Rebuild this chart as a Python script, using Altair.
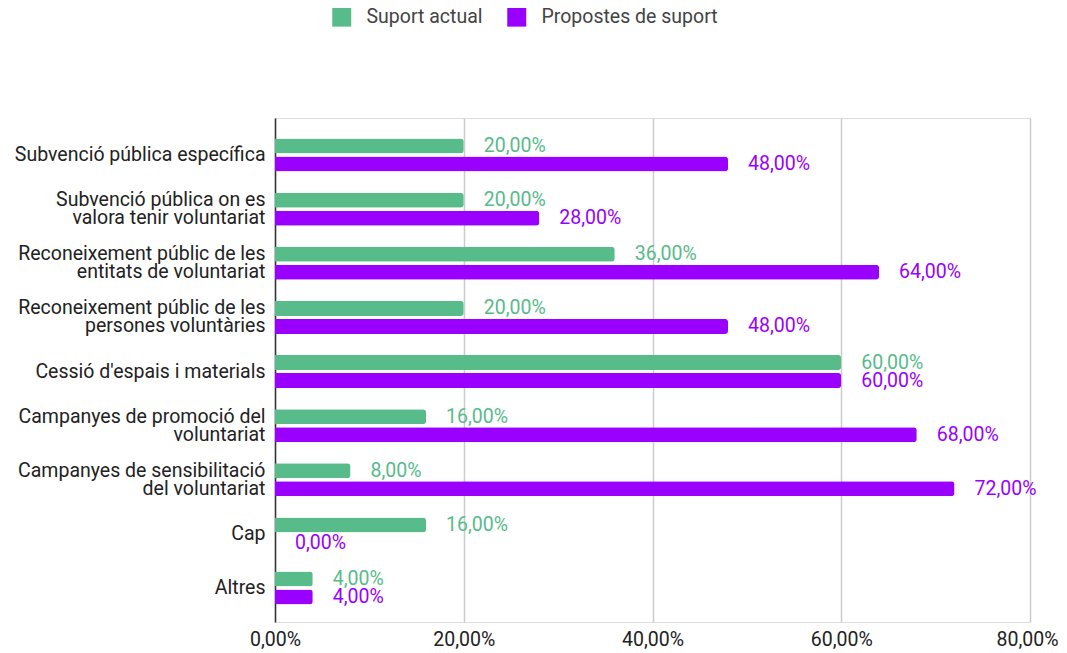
import altair as alt
import pandas as pd

categories = [
    "Subvenció pública específica",
    "Subvenció pública on es\nvalora tenir voluntariat",
    "Reconeixement públic de les\nentitats de voluntariat",
    "Reconeixement públic de les\npersones voluntàries",
    "Cessió d'espais i materials",
    "Campanyes de promoció del\nvoluntariat",
    "Campanyes de sensibilitació\ndel voluntariat",
    "Cap",
    "Altres",
]
series = ["Suport actual", "Propostes de suport"]
suport_actual = [20, 20, 36, 20, 60, 16, 8, 16, 4]
propostes = [48, 28, 64, 48, 60, 68, 72, 0, 4]
x_ticks = [0, 20, 40, 60, 80]
colors = ["#57bb8a", "#9900ff"]

rows = []
for c, a, p in zip(categories, suport_actual, propostes):
    rows.append({"cat": c, "serie": series[0], "value": a})
    rows.append({"cat": c, "serie": series[1], "value": p})
df = pd.DataFrame(rows)

FONT = "Roboto"
FS = 19.5
LH = 18

y_enc = alt.Y("cat:N", sort=categories, title=None,
              scale=alt.Scale(paddingInner=0, paddingOuter=0.156, align=0.59),
              axis=alt.Axis(labelExpr="split(datum.label, '\\n')", labelFontSize=FS,
                            labelColor="#222", labelFont=FONT, labelLineHeight=LH,
                            labelOffset={"condition": {"test": "indexof(datum.label, '\\n') >= 0",
                                                       "value": -LH / 2},
                                         "value": 0},
                            ticks=False, labelPadding=10, domain=True,
                            domainColor="#333", domainWidth=1.5, grid=False,
                            labelLimit=400))
yoff_enc = alt.YOffset("serie:N", sort=series,
                       scale=alt.Scale(paddingInner=0.1667, paddingOuter=0.587))
x_enc = alt.X("value:Q", title=None,
              scale=alt.Scale(domain=[0, 80], nice=False),
              axis=alt.Axis(values=x_ticks, labelExpr="replace(format(datum.value, '.2f'), '.', ',') + '%'",
                            labelFontSize=FS, labelColor="#222", labelFont=FONT,
                            labelFlush=False,
                            labelOffset={"condition": {"test": "datum.value >= 80", "value": -3},
                                         "value": 0},
                            grid=True, gridColor="#cccccc", gridWidth=1.5,
                            domain=False, ticks=False, labelPadding=8))
color_enc = alt.Color("serie:N", sort=series,
                      scale=alt.Scale(domain=series, range=colors),
                      legend=alt.Legend(title=None, orient="none", direction="horizontal",
                                        legendX=57, legendY=-111,
                                        symbolType="square", symbolSize=361,
                                        symbolStrokeWidth=0, symbolOpacity=1,
                                        labelFontSize=FS, labelFont=FONT, labelColor="#444",
                                        labelOffset=15, columnPadding=24, padding=0,
                                        labelLimit=400))

bars = alt.Chart(df).mark_bar(cornerRadiusEnd=3).encode(
    y=y_enc, yOffset=yoff_enc, x=x_enc, color=color_enc
)

labels = alt.Chart(df).transform_calculate(
    lbl="replace(format(datum.value, '.2f'), '.', ',') + '%'"
).mark_text(align="left", baseline="middle", dx=20, fontSize=FS, font=FONT).encode(
    y=alt.Y("cat:N", sort=categories),
    yOffset=alt.YOffset("serie:N", sort=series),
    x="value:Q",
    text="lbl:N",
    color=alt.Color("serie:N", sort=series, legend=None),
)

chart = alt.layer(bars, labels).properties(
    width=755, height=504,
    autosize=alt.AutoSizeParams(type="none"),
    padding={"left": 267, "top": 110, "right": 29, "bottom": 29},
).configure_view(stroke=None).configure(background="white")

chart.save("out.html", embed_options={"renderer": "svg", "actions": False})
